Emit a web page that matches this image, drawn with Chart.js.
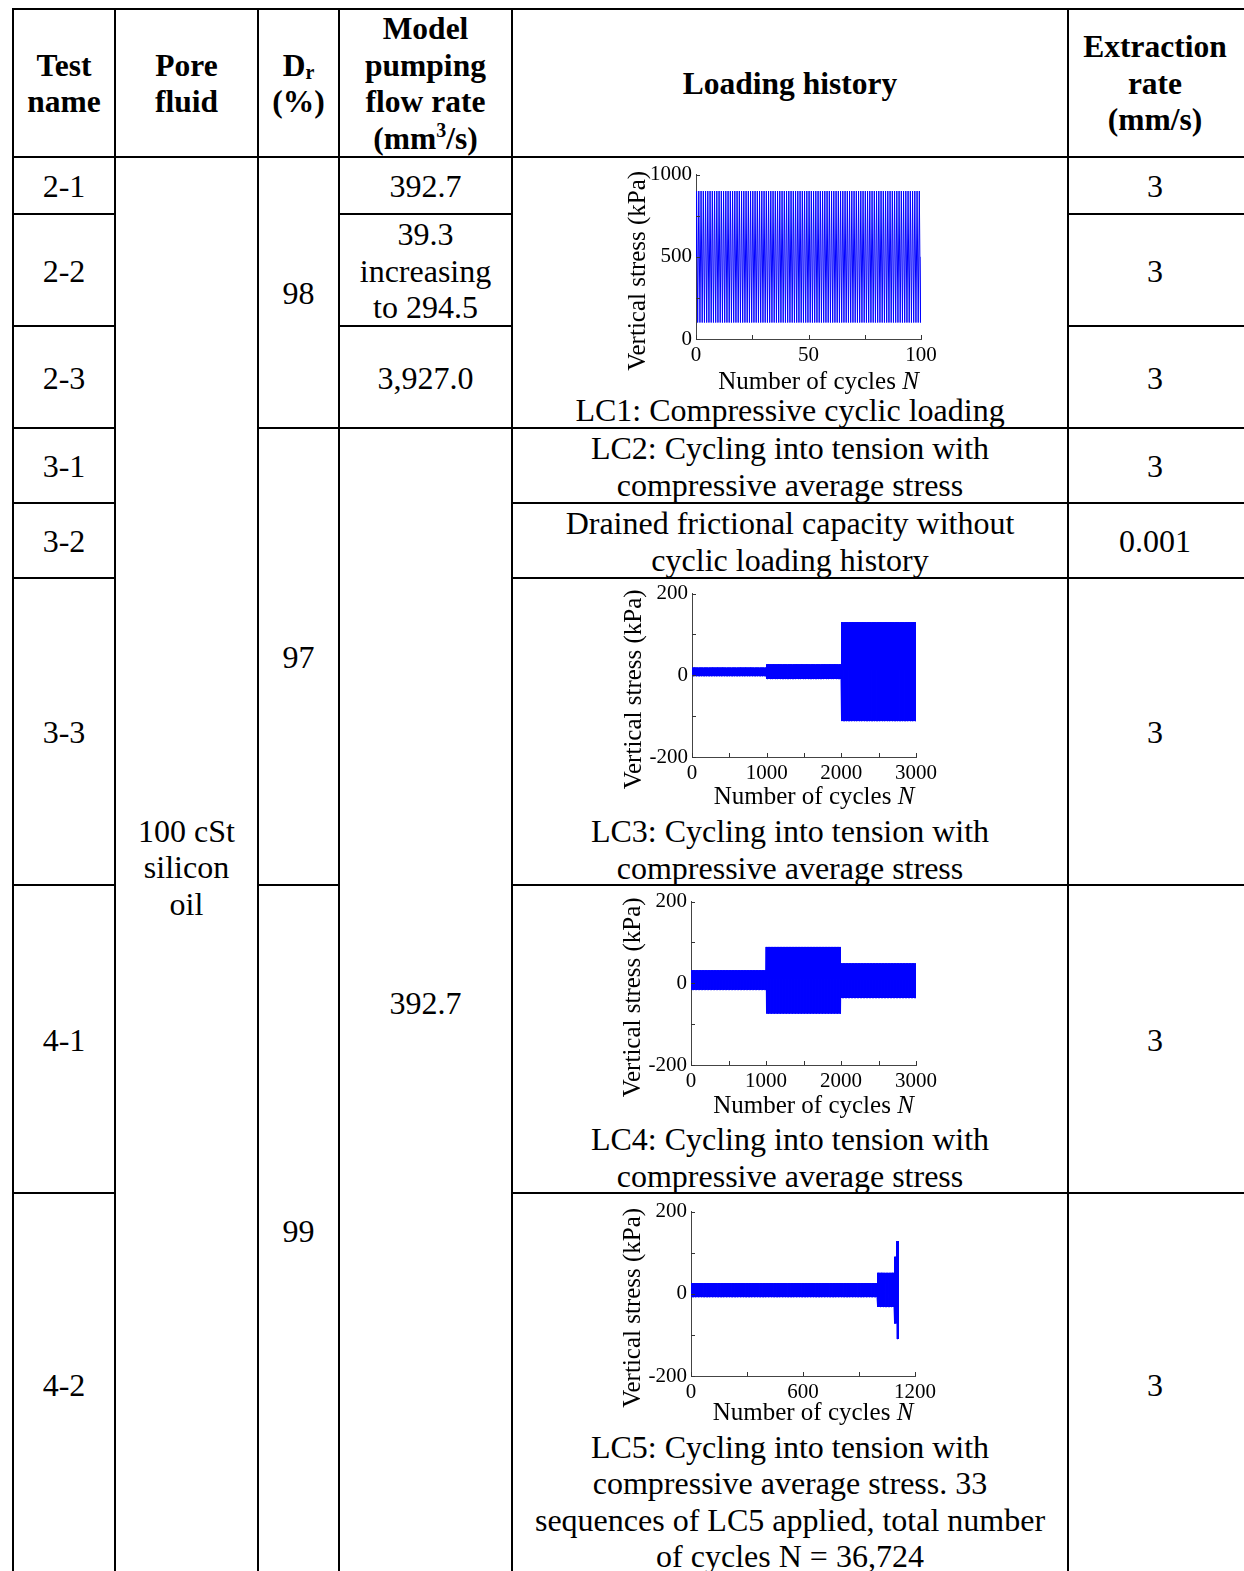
<!DOCTYPE html>
<html>
<head>
<meta charset="utf-8">
<script src="https://cdn.jsdelivr.net/npm/chart.js@4.4.1/dist/chart.umd.min.js"></script>
<style>
html, body { margin: 0; padding: 0; background: #fff; }
body { width: 1244px; height: 1571px; overflow: hidden; position: relative;
       font-family: "Liberation Serif", "Times New Roman", serif; color: #000; }
.cell { position: absolute; display: flex; align-items: center; justify-content: center;
        text-align: center; font-size: 32px; line-height: 36.5px; padding-top: 2px; box-sizing: border-box; }
.hd { font-weight: bold; font-size: 31.5px; }
.hd sub { font-size: 20px; vertical-align: -3px; line-height: 0; }
.hd sup { font-size: 20px; vertical-align: 12px; line-height: 0; }
.ln { position: absolute; background: #000; }
canvas { position: absolute; }
</style>
</head>
<body>
<div id="tbl"></div>
<canvas id="lc1"></canvas>
<canvas id="lc3"></canvas>
<canvas id="lc4"></canvas>
<canvas id="lc5"></canvas>
<script>
// loading stages: cycle range, min / max vertical stress (kPa)
var lc1StageStart = [0];
var lc1StageEnd = [100];
var lc1StageMin = [100];
var lc1StageMax = [900];

var lc3StageStart = [0, 1000, 2000];
var lc3StageEnd = [1000, 2000, 3000];
var lc3StageMin = [-2, -9, -112];
var lc3StageMax = [19, 27, 130];

var lc4StageStart = [0, 1000, 2000];
var lc4StageEnd = [1000, 2000, 3000];
var lc4StageMin = [-16, -74, -36];
var lc4StageMax = [32, 89, 49];

var lc5StageStart = [0, 1000, 1090, 1103];
var lc5StageEnd = [1000, 1090, 1103, 1113];
var lc5StageMin = [-8, -32, -72, -110];
var lc5StageMax = [26, 51, 90, 128];

// tick labels
var lc1XLabels = [0, 50, 100];
var lc1YLabels = [0, 500, 1000];
var lc34XLabels = [0, 1000, 2000, 3000];
var lc5XLabels = [0, 600, 1200];
var tensionYLabels = [-200, 0, 200];

var xTitle = 'Number of cycles ';
var xTitleVar = 'N';
var yTitle = 'Vertical stress (kPa)';

// ---------- table ----------
var tbl = document.getElementById('tbl');

function cell(x1, y1, x2, y2, html, cls) {
    var d = document.createElement('div');
    d.className = 'cell' + (cls ? ' ' + cls : '');
    d.style.left = x1 + 'px';
    d.style.top = y1 + 'px';
    d.style.width = (x2 - x1) + 'px';
    d.style.height = (y2 - y1) + 'px';
    d.innerHTML = '<div>' + html + '</div>';
    tbl.appendChild(d);
}
function hline(x1, x2, y) {
    var d = document.createElement('div');
    d.className = 'ln';
    d.style.left = (x1 - 1) + 'px';
    d.style.top = (y - 1) + 'px';
    d.style.width = (x2 - x1 + 2) + 'px';
    d.style.height = '2px';
    tbl.appendChild(d);
}
function vline(x, y1, y2) {
    var d = document.createElement('div');
    d.className = 'ln';
    d.style.left = (x - 1) + 'px';
    d.style.top = (y1 - 1) + 'px';
    d.style.width = '2px';
    d.style.height = (y2 - y1 + 2) + 'px';
    tbl.appendChild(d);
}

var cx = [13, 115, 258, 339, 512, 1068, 1242];
var bottom = 1576;

// header
cell(13, 9, 115, 157, 'Test<br>name', 'hd');
cell(115, 9, 258, 157, 'Pore<br>fluid', 'hd');
cell(258, 9, 339, 157, 'D<sub>r</sub><br>(%)', 'hd');
cell(339, 9, 512, 157, 'Model<br>pumping<br>flow rate<br>(mm<sup>3</sup>/s)', 'hd');
cell(512, 9, 1068, 157, 'Loading history', 'hd');
cell(1068, 9, 1242, 157, 'Extraction<br>rate<br>(mm/s)', 'hd');

// test names
cell(13, 157, 115, 214, '2-1');
cell(13, 214, 115, 326, '2-2');
cell(13, 326, 115, 428, '2-3');
cell(13, 428, 115, 503, '3-1');
cell(13, 503, 115, 578, '3-2');
cell(13, 578, 115, 885, '3-3');
cell(13, 885, 115, 1193, '4-1');
cell(13, 1193, 115, bottom, '4-2');

cell(115, 157, 258, bottom, '100 cSt<br>silicon<br>oil');

cell(258, 157, 339, 428, '98');
cell(258, 428, 339, 885, '97');
cell(258, 885, 339, bottom, '99');

cell(339, 157, 512, 214, '392.7');
cell(339, 214, 512, 326, '39.3<br>increasing<br>to 294.5');
cell(339, 326, 512, 428, '3,927.0');
cell(339, 428, 512, bottom, '392.7');

cell(512, 391, 1068, 428, 'LC1: Compressive cyclic loading');
cell(512, 428, 1068, 503, 'LC2: Cycling into tension with<br>compressive average stress');
cell(512, 503, 1068, 578, 'Drained frictional capacity without<br>cyclic loading history');
cell(512, 812, 1068, 885, 'LC3: Cycling into tension with<br>compressive average stress');
cell(512, 1120, 1068, 1193, 'LC4: Cycling into tension with<br>compressive average stress');
cell(512, 1427, 1068, 1574, 'LC5: Cycling into tension with<br>compressive average stress. 33<br>sequences of LC5 applied, total number<br>of cycles N = 36,724');

cell(1068, 157, 1242, 214, '3');
cell(1068, 214, 1242, 326, '3');
cell(1068, 326, 1242, 428, '3');
cell(1068, 428, 1242, 503, '3');
cell(1068, 503, 1242, 578, '0.001');
cell(1068, 578, 1242, 885, '3');
cell(1068, 885, 1242, 1193, '3');
cell(1068, 1193, 1242, bottom, '3');

// borders
for (var i = 0; i < 6; i++) vline(cx[i], 9, bottom + 4);
hline(13, 1250, 9);
hline(13, 1250, 157);
hline(13, 115, 214); hline(339, 512, 214); hline(1068, 1250, 214);
hline(13, 115, 326); hline(339, 512, 326); hline(1068, 1250, 326);
hline(13, 115, 428); hline(258, 1250, 428);
hline(13, 115, 503); hline(512, 1250, 503);
hline(13, 115, 578); hline(512, 1250, 578);
hline(13, 115, 885); hline(258, 339, 885); hline(512, 1250, 885);
hline(13, 115, 1193); hline(512, 1250, 1193);
hline(13, 1250, bottom);

// ---------- charts ----------
function cycleTrace(start, end, lo, hi) {
    var pts = [];
    pts.push({ x: start[0], y: (lo[0] + hi[0]) / 2 });
    for (var s = 0; s < start.length; s++) {
        for (var c = start[s]; c < end[s]; c++) {
            pts.push({ x: c + 0.25, y: hi[s] });
            pts.push({ x: c + 0.75, y: lo[s] });
        }
    }
    var last = start.length - 1;
    pts.push({ x: end[last], y: (lo[last] + hi[last]) / 2 });
    return pts;
}

var serif = '"Liberation Serif", "Times New Roman", serif';

var axisDecor = {
    id: 'axisDecor',
    afterDraw: function(chart) {
        var ctx = chart.ctx, a = chart.chartArea;
        var xs = chart.scales.x, ys = chart.scales.y;
        var titleGap = chart.options.titleGap || 40;
        ctx.save();
        // inward tick marks
        ctx.strokeStyle = '#333';
        ctx.lineWidth = 1;
        ctx.beginPath();
        xs.ticks.forEach(function(t) {
            var px = Math.round(xs.getPixelForValue(t.value)) + 0.5;
            ctx.moveTo(px, a.bottom);
            ctx.lineTo(px, a.bottom - 4);
        });
        ys.ticks.forEach(function(t) {
            var py = Math.round(ys.getPixelForValue(t.value)) + 0.5;
            ctx.moveTo(a.left, py);
            ctx.lineTo(a.left + 4, py);
        });
        ctx.stroke();

        // axis titles
        var f1 = '25px ' + serif;
        var f2 = 'italic 25px ' + serif;
        ctx.fillStyle = '#000';
        ctx.textBaseline = 'middle';
        ctx.textAlign = 'left';
        ctx.font = f1;
        var w1 = ctx.measureText(xTitle).width;
        ctx.font = f2;
        var w2 = ctx.measureText(xTitleVar).width;
        var x0 = (a.left + a.right) / 2 + 10 - (w1 + w2) / 2;
        var ty = a.bottom + titleGap;
        ctx.font = f1;
        ctx.fillText(xTitle, x0, ty);
        ctx.font = f2;
        ctx.fillText(xTitleVar, x0 + w1, ty);

        ctx.translate(a.left - 58, (a.top + a.bottom) / 2 + 14);
        ctx.rotate(-Math.PI / 2);
        ctx.textAlign = 'center';
        ctx.font = f1;
        ctx.fillText(yTitle, 0, 0);
        ctx.restore();
    }
};

function makeChart(id, box, trace, xMax, xStep, xLabels, yMin, yMax, yStep, yLabels) {
    var cv = document.getElementById(id);
    cv.width = box.w;
    cv.height = box.h;
    cv.style.left = box.x + 'px';
    cv.style.top = box.y + 'px';
    cv.style.width = box.w + 'px';
    cv.style.height = box.h + 'px';
    return new Chart(cv.getContext('2d'), {
        type: 'line',
        data: {
            datasets: [{
                data: trace,
                borderColor: '#0000ff',
                borderWidth: 1,
                pointRadius: 0,
                tension: 0,
                fill: false
            }]
        },
        options: {
            responsive: false,
            animation: false,
            parsing: false,
            titleGap: box.gap,
            layout: { padding: { top: 14, right: 24, left: 0, bottom: 0 } },
            plugins: { legend: { display: false }, tooltip: { enabled: false } },
            scales: {
                x: {
                    type: 'linear',
                    min: 0,
                    max: xMax,
                    afterFit: function(s) { s.height = 60; },
                    grid: { display: false, drawTicks: false },
                    border: { display: true, color: '#444', width: 1 },
                    ticks: {
                        stepSize: xStep,
                        padding: 4,
                        maxRotation: 0,
                        autoSkip: false,
                        color: '#000',
                        font: { family: serif, size: 21 },
                        callback: function(v) { return xLabels.indexOf(v) >= 0 ? String(v) : ''; }
                    }
                },
                y: {
                    type: 'linear',
                    min: yMin,
                    max: yMax,
                    afterFit: function(s) { s.width = 82; },
                    grid: { display: false, drawTicks: false },
                    border: { display: true, color: '#444', width: 1 },
                    ticks: {
                        stepSize: yStep,
                        padding: 4,
                        autoSkip: false,
                        color: '#000',
                        font: { family: serif, size: 21 },
                        callback: function(v) { return yLabels.indexOf(v) >= 0 ? String(v) : ''; }
                    }
                }
            }
        },
        plugins: [axisDecor]
    });
}

makeChart('lc1', { x: 614, y: 158, w: 331, h: 241, gap: 43 },
    cycleTrace(lc1StageStart, lc1StageEnd, lc1StageMin, lc1StageMax),
    100, 25, lc1XLabels, 0, 1000, 250, lc1YLabels);
makeChart('lc3', { x: 610, y: 577, w: 331, h: 240, gap: 40 },
    cycleTrace(lc3StageStart, lc3StageEnd, lc3StageMin, lc3StageMax),
    3000, 500, lc34XLabels, -200, 200, 100, tensionYLabels);
makeChart('lc4', { x: 609, y: 885, w: 332, h: 240, gap: 41 },
    cycleTrace(lc4StageStart, lc4StageEnd, lc4StageMin, lc4StageMax),
    3000, 500, lc34XLabels, -200, 200, 100, tensionYLabels);
makeChart('lc5', { x: 609, y: 1195, w: 331, h: 241, gap: 37 },
    cycleTrace(lc5StageStart, lc5StageEnd, lc5StageMin, lc5StageMax),
    1200, 300, lc5XLabels, -200, 200, 100, tensionYLabels);
</script>
</body>
</html>
